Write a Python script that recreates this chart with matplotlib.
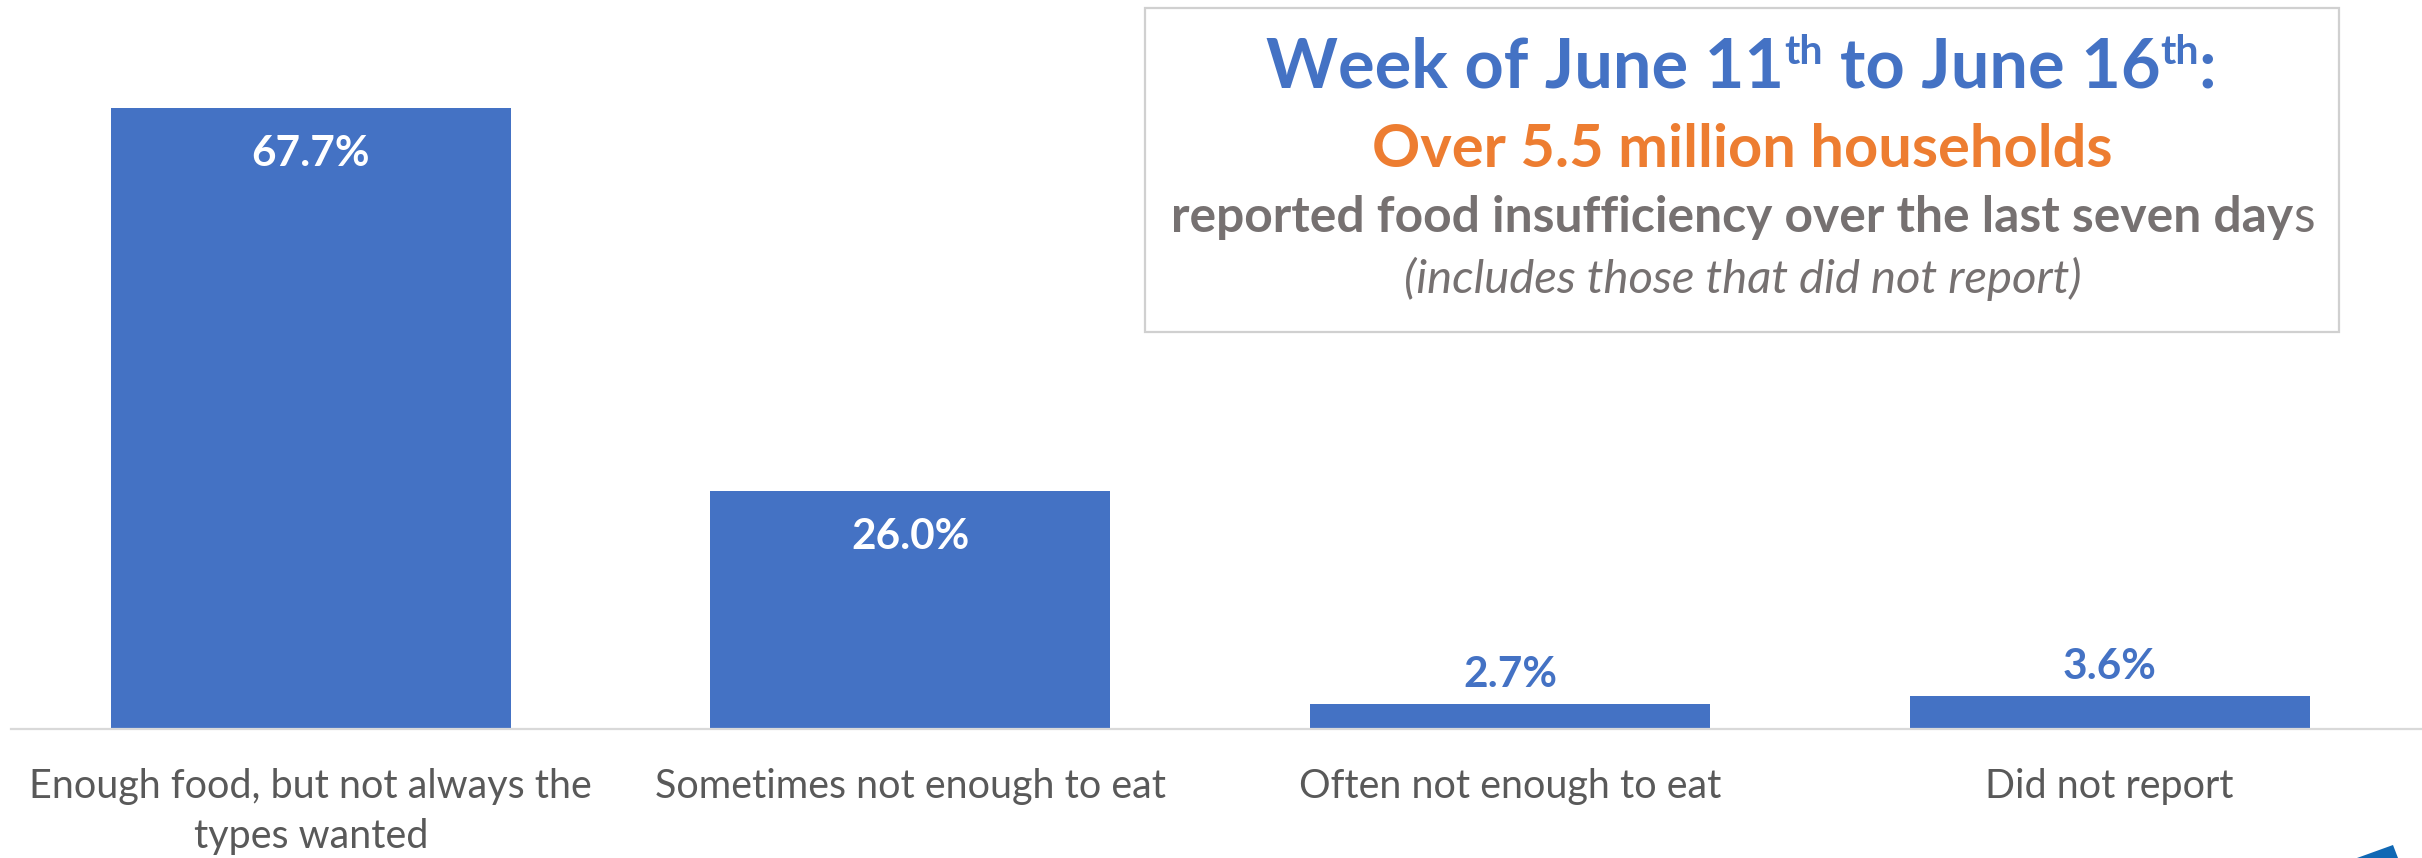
import matplotlib
matplotlib.use("Agg")
import matplotlib.pyplot as plt
from matplotlib.patches import Rectangle, Polygon

# ---------------- data ----------------
categories = ["Enough food, but not always the\ntypes wanted",
              "Sometimes not enough to eat",
              "Often not enough to eat",
              "Did not report"]
values = [67.7, 26.0, 2.7, 3.6]
value_labels = ["67.7%", "26.0%", "2.7%", "3.6%"]
label_inside = [True, True, False, False]

title_line = [("Week of June 11", "main"), ("th", "sup"), (" ", "gap"),
              ("to June 16", "main"), ("th", "sup"), (":", "main")]
subtitle = "Over 5.5 million households"
body_bold = "reported food insufficiency over the last seven day"
body_tail = "s"
note = "(includes those that did not report)"

# ---------------- style ----------------
BLUE = "#4472C4"
ORANGE = "#ED7D31"
GRAY_TXT = "#767171"
CAT_TXT = "#595959"
AXIS_GRAY = "#D9D9D9"
FONT = ["Lato", "DejaVu Sans"]

W, H, DPI = 2422, 858, 100
plt.rcParams['font.family'] = FONT
fig = plt.figure(figsize=(W / DPI, H / DPI), dpi=DPI)
renderer = fig.canvas.get_renderer()


def text_w(s, size, weight="normal", style="normal"):
    """advance width of s in pixels (spaces counted)"""
    def raw(t):
        o = fig.text(0, 0, t, fontsize=size, weight=weight, style=style,
                     transform=None)
        w = o.get_window_extent(renderer).width
        o.remove()
        return w
    return raw("|" + s + "|") - raw("||")


def fit_size(s, target, weight="normal", style="normal", ref=40.0):
    return ref * target / text_w(s, ref, weight, style)


# ---------------- axes & bars ----------------
base_px = 729          # baseline y from top
px_per_unit = 621 / 67.7
ax = fig.add_axes([11 / W, (H - base_px) / H, (W - 11) / W, base_px / H])
xpos = list(range(len(values)))
ax.bar(xpos, values, width=0.667, color=BLUE, zorder=2)
ax.set_xlim(-0.5, 3.521)
ax.set_ylim(0, base_px / px_per_unit)
for sp in ["top", "left", "right"]:
    ax.spines[sp].set_visible(False)
ax.spines["bottom"].set_color(AXIS_GRAY)
ax.spines["bottom"].set_linewidth(1.6)
ax.set_yticks([])
ax.set_xticks([])
ax.patch.set_alpha(0)

# value labels
val_size = fit_size("67.7%", 118, weight="bold")
for i, (v, lab, inside) in enumerate(zip(values, value_labels, label_inside)):
    if inside:
        ax.annotate(lab, xy=(i, v), xytext=(0, -58), textcoords="offset pixels",
                    ha="center", va="baseline", color="white",
                    fontsize=val_size, weight="bold")
    else:
        ax.annotate(lab, xy=(i, v), xytext=(0, 17), textcoords="offset pixels",
                    ha="center", va="baseline", color=BLUE,
                    fontsize=val_size, weight="bold")

# category labels
cat_size = fit_size("Sometimes not enough to eat", 511)
for i, cat in enumerate(categories):
    for k, line in enumerate(cat.split("\n")):
        ax.annotate(line, xy=(i, 0), xycoords=("data", "axes fraction"),
                    xytext=(0, -(69 + 50 * k)), textcoords="offset pixels",
                    ha="center", va="baseline", color=CAT_TXT,
                    fontsize=cat_size, annotation_clip=False)

# ---------------- text box ----------------
bx0, by0, bx1, by1 = 1145, 8, 2339, 332
fig.patches.append(Rectangle((bx0 / W, 1 - by1 / H), (bx1 - bx0) / W,
                             (by1 - by0) / H, transform=fig.transFigure,
                             facecolor="white", edgecolor="#D0D0D0",
                             linewidth=1.6, zorder=5))
cx = 1742


def draw_segments(segs, baseline, target_w):
    # segs: list of (text, kind, weight, style, color)
    def total(size):
        t = 0
        for s, kind, wt, st, col in segs:
            sz = size * (0.6 if kind == "sup" else 1.0)
            t += text_w(s, sz, wt, st)
        return t
    size = 40.0 * target_w / total(40.0)
    x = cx - target_w / 2
    for s, kind, wt, st, col in segs:
        sz = size * (0.6 if kind == "sup" else 1.0)
        w = text_w(s, sz, wt, st)
        if kind != "gap":
            rise = 0.33 * size * DPI / 72 if kind == "sup" else 0
            fig.text(x, H - baseline + rise, s, transform=None, ha="left",
                     va="baseline", fontsize=sz, weight=wt, style=st,
                     color=col, zorder=6)
        x += w


draw_segments([(s, k, "bold", "normal", BLUE) for s, k in title_line], 87, 951)
draw_segments([(subtitle, "main", "bold", "normal", ORANGE)], 167, 740)
draw_segments([(body_bold, "main", "bold", "normal", GRAY_TXT),
               (body_tail, "main", "normal", "normal", GRAY_TXT)], 232, 1142)
draw_segments([(note, "main", "normal", "italic", GRAY_TXT)], 293, 677)

# corner decoration
tri = [(2357, 858), (2393, 845), (2398, 858)]
fig.patches.append(Polygon([(x / W, 1 - y / H) for x, y in tri], closed=True,
                           transform=fig.transFigure, facecolor="#1068B4",
                           edgecolor="none", zorder=6))

fig.savefig("out.png", dpi=DPI, facecolor="white")
